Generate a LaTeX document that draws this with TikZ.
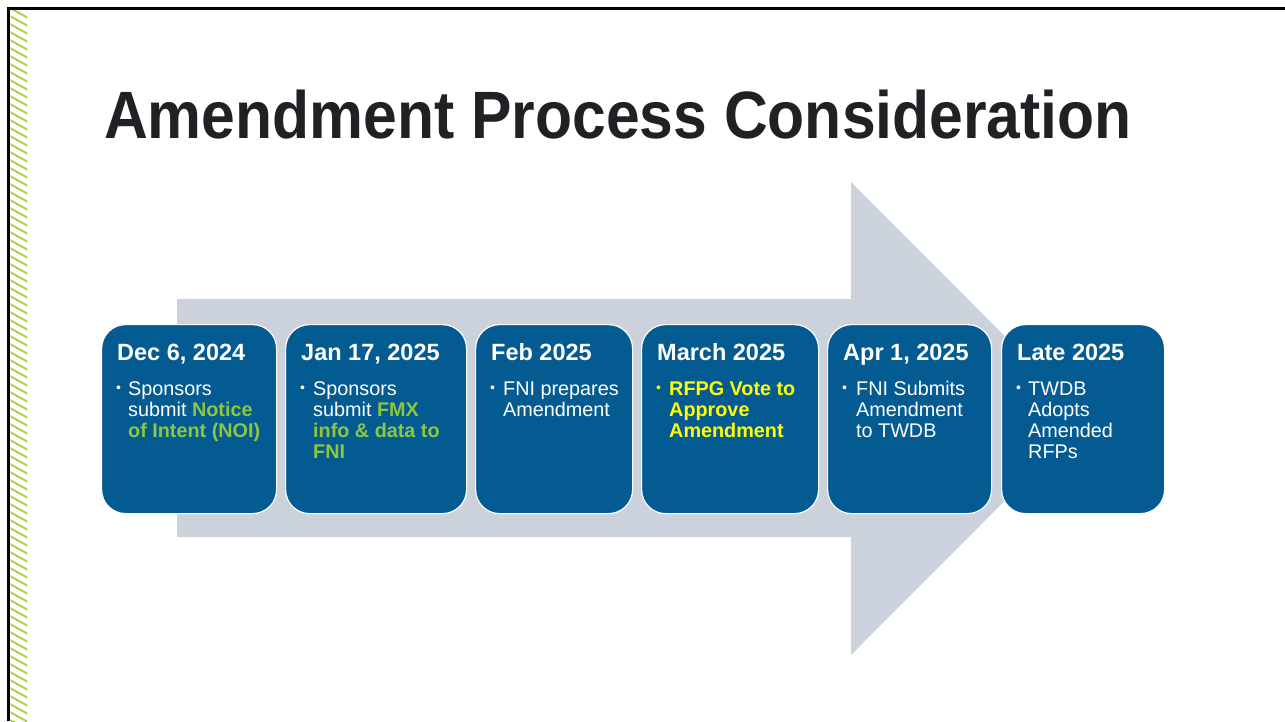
\documentclass[tikz,border=0pt]{standalone}
\usepackage{fontspec}
\setmainfont{Liberation Sans}
\definecolor{boxblue}{HTML}{045B91}
\definecolor{arrowgray}{HTML}{CCD2DC}
\definecolor{titlecol}{HTML}{202124}
\definecolor{hlgreen}{HTML}{8DC63F}
\definecolor{hlyellow}{HTML}{FFFF00}
\definecolor{stripegreen}{HTML}{A9CF46}
\newcommand{\gr}[1]{\textbf{\color{hlgreen}#1}}
\newcommand{\yl}[1]{\textbf{\color{hlyellow}#1}}
\tikzset{
  stepbox/.style={draw=white, line width=1.2pt, fill=boxblue, rounded corners=24pt,
    anchor=north west, minimum height=189pt, inner sep=0pt},
  heading/.style={anchor=base west, inner sep=0pt, text=white,
    font=\fontsize{23.5}{26}\selectfont\bfseries},
  bul/.style={anchor=base west, inner sep=0pt, text=white,
    font=\fontsize{14}{16}\selectfont},
  body/.style={anchor=base west, inner sep=0pt, text=white,
    font=\fontsize{19.8}{21}\selectfont},
}
\newcommand{\lines}[1]{\begin{tabular}[t]{@{}l@{}}#1\end{tabular}}
\begin{document}
\begin{tikzpicture}[x=1pt,y=-1pt]
\useasboundingbox (0,0) rectangle (1285,721);
\fill[white] (0,0) rectangle (1285,721);
% frame
\begin{scope}
  \clip (10.5,9.5) rectangle (27,721);
  \foreach \i in {-4,...,95}
    \draw[stripegreen, line width=1.9pt] (10,8*\i) -- (28,8*\i+10);
\end{scope}
\draw[black, line width=2.6pt] (1285,8.5) -- (8.5,8.5) -- (8.5,721);
% title
\node[anchor=base west, inner sep=0pt, text=titlecol,
  font=\fontsize{67}{70}\selectfont\bfseries] (title) at (104,138)
  {\scalebox{0.905}[1]{Amendment Process Consideration}};
% big arrow
\fill[arrowgray] (177,299) -- (851,299) -- (851,182) -- (1087,418.5)
  -- (851,655) -- (851,537) -- (177,537) -- cycle;
% boxes
\node[stepbox, minimum width=175pt] (b1) at (101,324) {};
\node[stepbox, minimum width=181pt] (b2) at (285,324) {};
\node[stepbox, minimum width=157pt] (b3) at (475,324) {};
\node[stepbox, minimum width=177pt] (b4) at (641,324) {};
\node[stepbox, minimum width=164pt] (b5) at (827,324) {};
\node[stepbox, minimum width=163pt] (b6) at (1001,324) {};
% headings
\node[heading] (h1) at (117,360) {Dec 6, 2024};
\node[heading] (h2) at (301,360) {Jan 17, 2025};
\node[heading] (h3) at (491,360) {Feb 2025};
\node[heading] (h4) at (657,360) {March 2025};
\node[heading] (h5) at (843,360) {Apr 1, 2025};
\node[heading] (h6) at (1017,360) {Late 2025};
% bullets
\node[bul] (u1) at (116,392) {\textbullet};
\node[bul] (u2) at (300,392) {\textbullet};
\node[bul] (u3) at (490,392) {\textbullet};
\node[bul, text=hlyellow] (u4) at (656,392) {\textbullet};
\node[bul] (u5) at (842,392) {\textbullet};
\node[bul] (u6) at (1016,392) {\textbullet};
% bullet texts
\node[body] (t1) at (128,395) {\lines{Sponsors\\ submit \gr{Notice}\\ \gr{of Intent (NOI)}}};
\node[body] (t2) at (313,395) {\lines{Sponsors\\ submit \gr{FMX}\\ \gr{info \& data to}\\ \gr{FNI}}};
\node[body] (t3) at (503,395) {\lines{FNI prepares\\ Amendment}};
\node[body] (t4) at (669,395) {\lines{\yl{RFPG Vote to}\\ \yl{Approve}\\ \yl{Amendment}}};
\node[body] (t5) at (856,395) {\lines{FNI Submits\\ Amendment\\ to TWDB}};
\node[body] (t6) at (1028,395) {\lines{TWDB\\ Adopts\\ Amended\\ RFPs}};
\end{tikzpicture}
\end{document}
